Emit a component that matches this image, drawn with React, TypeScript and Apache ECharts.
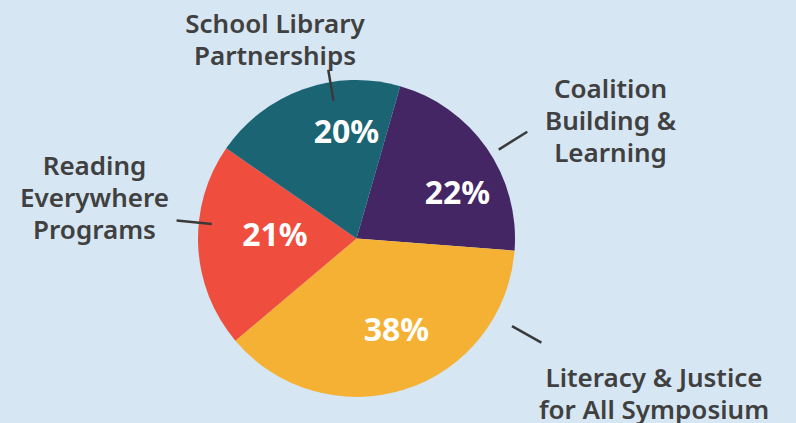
import React, { useEffect, useRef } from "react";
import * as echarts from "echarts";

// Data
const categories = [
  "Coalition\nBuilding &\nLearning",
  "Literacy & Justice\nfor All Symposium",
  "Reading\nEverywhere\nPrograms",
  "School Library\nPartnerships",
];
const values = [22, 38, 21, 20];

// Style
const colors = ["#432663", "#f5b134", "#ef4d3e", "#1b6473"];
const CX = 356.5;
const CY = 238.5;
const R = 158.5;
// inner label offsets from the pie centre
const innerOffsets = [
  [101, -47],
  [40, 90],
  [-81.5, -5],
  [-10, -108.5],
];
// outer label centres relative to pie centre
const outerOffsets = [
  [254, -119],
  [297.5, 154],
  [-262, -41.5],
  [-81.5, -199.5],
];
// callout line: angle (deg clockwise from top), start radius, end radius
const callouts = [
  [58, 167.7, 201.4],
  [119.4, 178.5, 212.2],
  [275.7, 145.4, 180.8],
  [-9.5, 139.5, 171.1],
];

function polar(angle: number, r: number): number[] {
  const a = (angle * Math.PI) / 180;
  return [CX + r * Math.sin(a), CY - r * Math.cos(a)];
}

export default function App() {
  const ref = useRef<HTMLDivElement>(null);
  useEffect(() => {
    if (!ref.current) return;
    const chart = echarts.init(ref.current, null, { renderer: "svg" });
    const data = categories.map((name, i) => ({
      name,
      value: values[i],
      itemStyle: { color: colors[i] },
    }));
    chart.setOption({
      animation: false,
      backgroundColor: "#d6e6f3",
      series: [
        {
          type: "pie",
          center: [CX, CY],
          radius: R,
          startAngle: 74,
          clockwise: true,
          avoidLabelOverlap: false,
          silent: true,
          data,
          itemStyle: { borderWidth: 0 },
          label: {
            show: true,
            position: "inside",
            formatter: (p: any) => p.value + "%",
            color: "#ffffff",
            fontFamily: "Noto Sans",
            fontWeight: "bold",
            fontSize: 32,
          },
          labelLine: { show: false },
          labelLayout: (p: any) => {
            const o = innerOffsets[p.dataIndex];
            return {
              x: CX + o[0],
              y: CY + o[1],
              align: "center",
              verticalAlign: "middle",
            };
          },
        },
        {
          type: "pie",
          center: [CX, CY],
          radius: R,
          startAngle: 74,
          clockwise: true,
          avoidLabelOverlap: false,
          silent: true,
          z: 3,
          data: categories.map((name, i) => ({ name, value: values[i] })),
          itemStyle: { color: "rgba(0,0,0,0)", borderWidth: 0 },
          label: {
            show: true,
            position: "outside",
            formatter: (p: any) => p.name,
            color: "#404040",
            fontFamily: "Noto Sans",
            fontWeight: 600,
            fontSize: 26,
            lineHeight: 32,
            align: "center",
          },
          labelLine: {
            show: true,
            length: 10,
            length2: 0,
            lineStyle: { color: "#3a3a3a", width: 2.5 },
          },
          labelLayout: (p: any) => {
            const i = p.dataIndex;
            const o = outerOffsets[i];
            const c = callouts[i];
            const p1 = polar(c[0], c[1]);
            const p2 = polar(c[0], c[2]);
            return {
              x: CX + o[0],
              y: CY + o[1],
              align: "center",
              verticalAlign: "middle",
              labelLinePoints: [p1, p2, p2],
            };
          },
        },
      ],
    });
    return () => chart.dispose();
  }, []);
  return (
    <div
      ref={ref}
      style={{ position: "fixed", left: 0, top: 0, width: 796, height: 423 }}
    />
  );
}
